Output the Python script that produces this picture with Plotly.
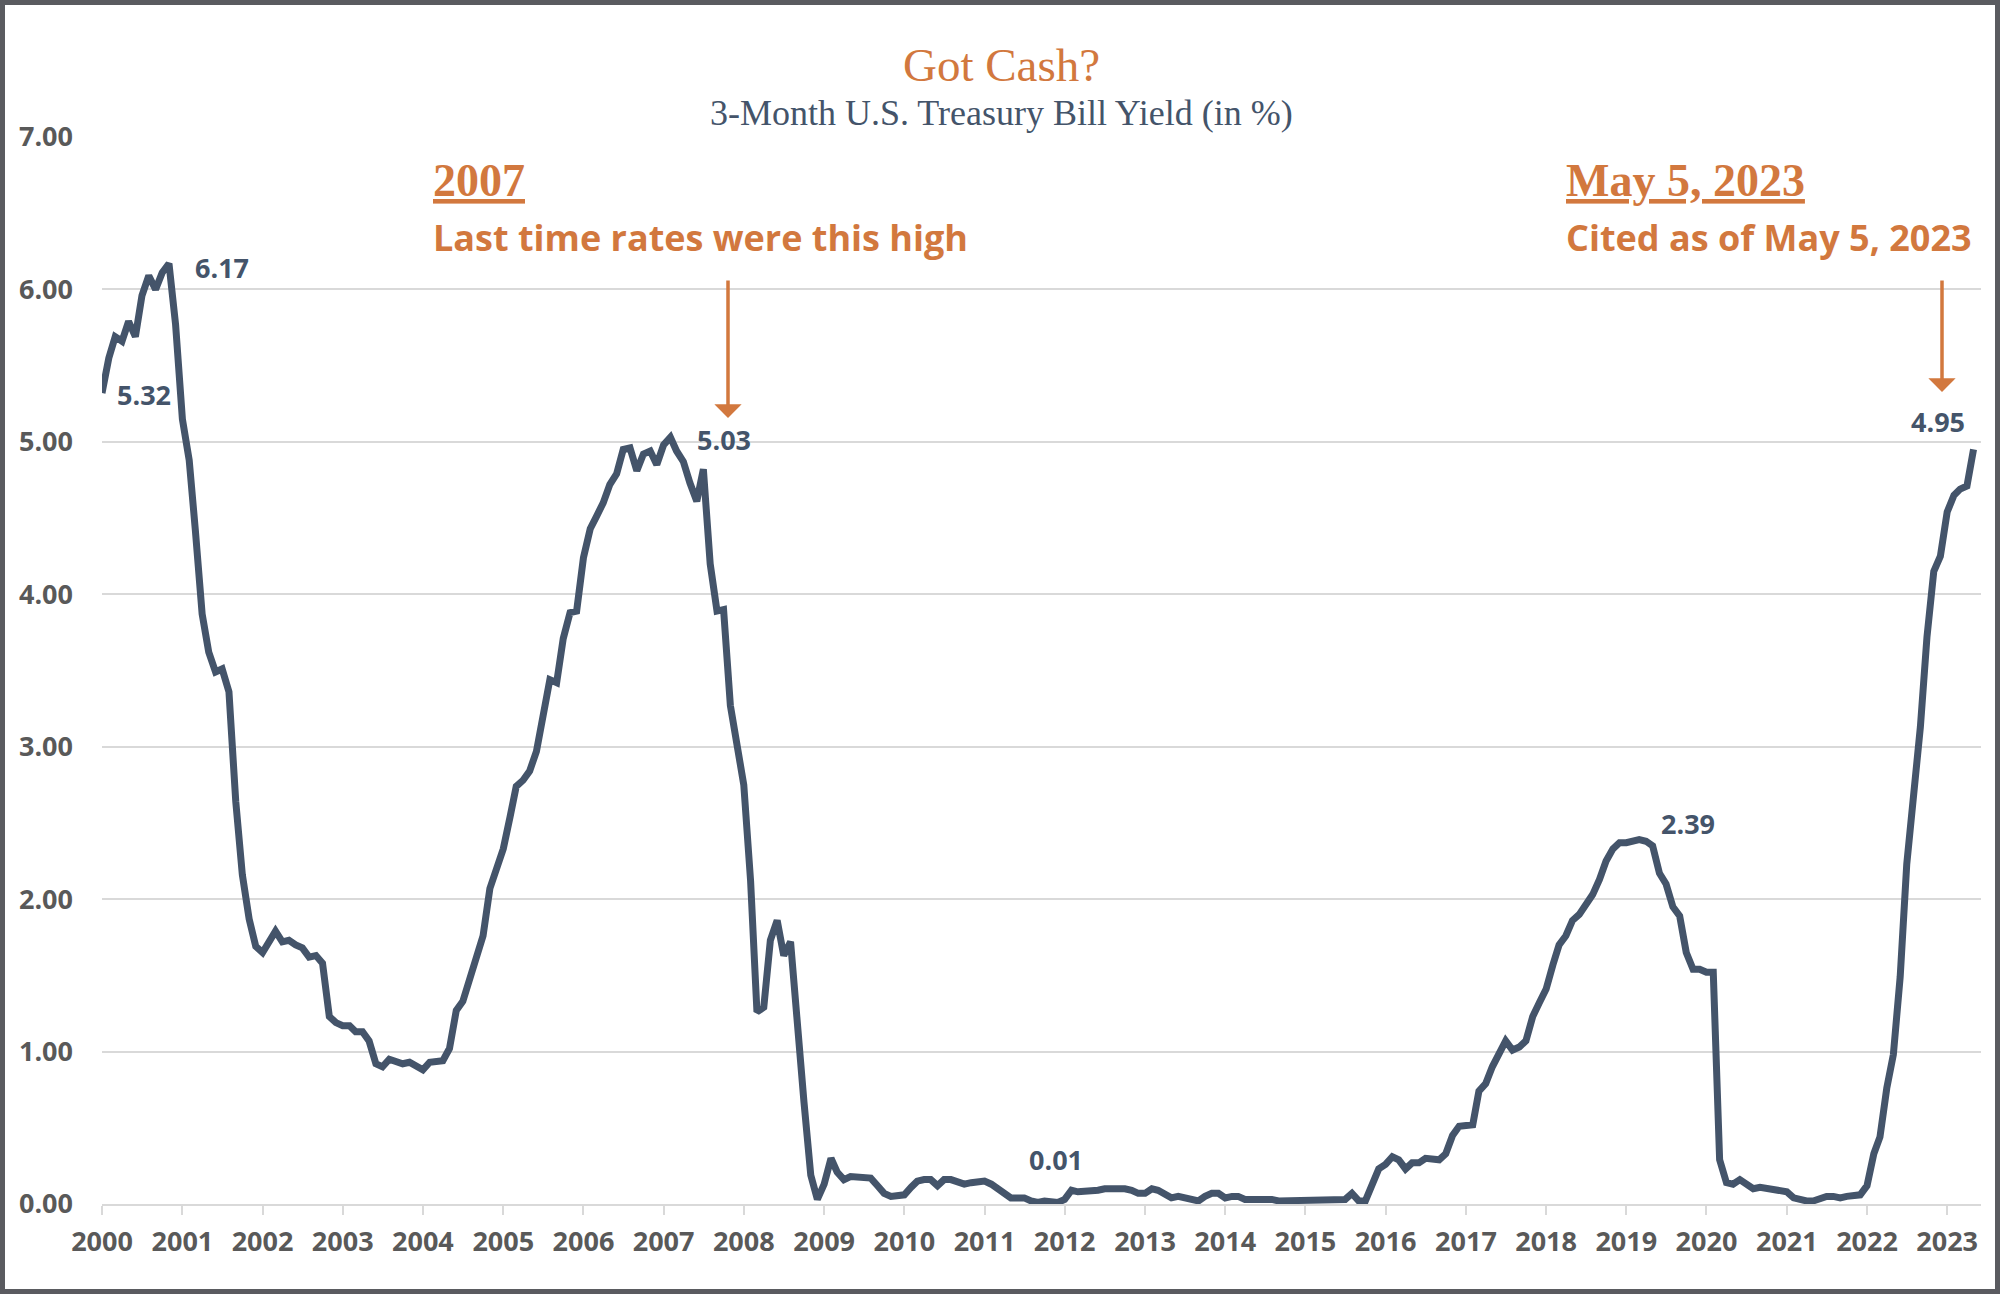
import pandas as pd
import plotly.graph_objects as go

# ---- data: 3-month T-bill yield (%), monthly, Jan 2000 - May 2023 ----
start_month = "2000-01-01"
y2000 = [5.32, 5.55, 5.69, 5.66, 5.79, 5.69, 5.96, 6.09, 6.00, 6.11, 6.17, 5.77]
y2001 = [5.15, 4.88, 4.42, 3.87, 3.62, 3.49, 3.51, 3.36, 2.64, 2.16, 1.87, 1.69]
y2002 = [1.65, 1.73, 1.79, 1.72, 1.73, 1.70, 1.68, 1.62, 1.63, 1.58, 1.23, 1.19]
y2003 = [1.17, 1.17, 1.13, 1.13, 1.07, 0.92, 0.90, 0.95, 0.94, 0.92, 0.93, 0.90]
y2004 = [0.88, 0.93, 0.94, 0.94, 1.02, 1.27, 1.33, 1.48, 1.65, 1.76, 2.07, 2.19]
y2005 = [2.33, 2.54, 2.74, 2.78, 2.84, 2.97, 3.22, 3.44, 3.42, 3.71, 3.88, 3.89]
y2006 = [4.24, 4.43, 4.51, 4.60, 4.72, 4.79, 4.95, 4.96, 4.81, 4.92, 4.94, 4.85]
y2007 = [4.98, 5.03, 4.94, 4.87, 4.73, 4.61, 4.82, 4.20, 3.89, 3.90, 3.27, 3.00]
y2008 = [2.75, 2.12, 1.26, 1.29, 1.73, 1.86, 1.63, 1.72, 1.13, 0.67, 0.19, 0.03]
y2009 = [0.13, 0.30, 0.21, 0.16, 0.18, 0.18, 0.18, 0.17, 0.12, 0.07, 0.05, 0.05]
y2010 = [0.06, 0.11, 0.15, 0.16, 0.16, 0.12, 0.16, 0.16, 0.15, 0.13, 0.14, 0.14]
y2011 = [0.15, 0.13, 0.10, 0.06, 0.04, 0.04, 0.04, 0.02, 0.01, 0.02, 0.01, 0.01]
y2012 = [0.03, 0.09, 0.08, 0.08, 0.09, 0.09, 0.10, 0.10, 0.11, 0.10, 0.09, 0.07]
y2013 = [0.07, 0.10, 0.09, 0.06, 0.04, 0.05, 0.04, 0.04, 0.02, 0.05, 0.07, 0.07]
y2014 = [0.04, 0.05, 0.05, 0.03, 0.03, 0.04, 0.03, 0.03, 0.02, 0.02, 0.02, 0.03]
y2015 = [0.03, 0.02, 0.03, 0.02, 0.02, 0.02, 0.03, 0.07, 0.02, 0.02, 0.12, 0.23]
y2016 = [0.26, 0.31, 0.29, 0.23, 0.27, 0.27, 0.30, 0.30, 0.29, 0.33, 0.45, 0.51]
y2017 = [0.51, 0.52, 0.74, 0.79, 0.90, 0.98, 1.07, 1.01, 1.03, 1.07, 1.23, 1.32]
y2018 = [1.41, 1.57, 1.70, 1.76, 1.86, 1.90, 1.96, 2.03, 2.13, 2.25, 2.33, 2.37]
y2019 = [2.37, 2.38, 2.39, 2.38, 2.35, 2.17, 2.10, 1.95, 1.89, 1.65, 1.54, 1.54]
y2020 = [1.52, 1.52, 0.29, 0.14, 0.13, 0.16, 0.13, 0.10, 0.11, 0.10, 0.09, 0.09]
y2021 = [0.08, 0.04, 0.03, 0.02, 0.02, 0.04, 0.05, 0.05, 0.04, 0.05, 0.05, 0.06]
y2022 = [0.12, 0.33, 0.44, 0.76, 0.98, 1.49, 2.23, 2.63, 3.13, 3.72, 4.15, 4.25]
y2023 = [4.54, 4.65, 4.69, 4.71, 4.95]

yields = (y2000 + y2001 + y2002 + y2003 + y2004 + y2005 + y2006 + y2007 + y2008
          + y2009 + y2010 + y2011 + y2012 + y2013 + y2014 + y2015 + y2016 + y2017
          + y2018 + y2019 + y2020 + y2021 + y2022 + y2023)
months = pd.date_range(start_month, periods=len(yields), freq="MS")

# labelled points: (month, value text)
label_months = ["2000-01-01", "2000-11-01", "2007-02-01", "2011-11-01", "2019-03-01", "2023-05-01"]
label_texts = ["5.32", "6.17", "5.03", "0.01", "2.39", "4.95"]

NAVY = "#44546A"
ORANGE = "#D2783E"
GRID = "#D9D9D9"
TICK = "#595959"
SANS = "Open Sans, Noto Sans, sans-serif"
SERIF = "Liberation Serif, Times New Roman, serif"

W, H = 2000, 1294
ML, MR, MT, MB = 102, 19, 137, 90
PW, PH = W - ML - MR, H - MT - MB


def px(x):
    return (x - ML) / PW


def py(y):
    return (H - MB - y) / PH


fig = go.Figure()
fig.add_trace(go.Scatter(
    x=months, y=yields, mode="lines",
    line=dict(color=NAVY, width=7),
    hoverinfo="skip", showlegend=False,
))

# value labels
offsets = {
    "5.32": dict(xanchor="left", xshift=13, yshift=-1),
    "6.17": dict(xanchor="left", xshift=24, yshift=-4),
    "5.03": dict(xanchor="left", xshift=25, yshift=-2),
    "0.01": dict(xanchor="center", xshift=5, yshift=43),
    "2.39": dict(xanchor="left", xshift=20, yshift=16),
    "4.95": dict(xanchor="right", xshift=-7, yshift=28),
}
val_by_month = dict(zip(months.strftime("%Y-%m-%d"), yields))
for m, t in zip(label_months, label_texts):
    fig.add_annotation(
        x=m, y=val_by_month[m], xref="x", yref="y", text=t, showarrow=False,
        yanchor="middle", font=dict(family=SANS, size=27, color=NAVY, weight="bold"),
        **offsets[t],
    )

# title and subtitle
fig.add_annotation(x=px(1001), y=py(65), xref="paper", yref="paper", text="Got Cash?",
                   showarrow=False, xanchor="center", yanchor="middle",
                   font=dict(family=SERIF, size=47, color=ORANGE))
fig.add_annotation(x=px(1001), y=py(113), xref="paper", yref="paper",
                   text="3-Month U.S. Treasury Bill Yield (in %)",
                   showarrow=False, xanchor="center", yanchor="middle",
                   font=dict(family=SERIF, size=36, color=NAVY))

# callouts
for xl, head, sub in [(431, "2007", "Last time rates were this high"),
                      (1564, "May 5, 2023", "Cited as of May 5, 2023")]:
    fig.add_annotation(x=px(xl), y=py(181), xref="paper", yref="paper",
                       text="<u>" + head + "</u>", showarrow=False,
                       xanchor="left", yanchor="middle",
                       font=dict(family=SERIF, size=46, color=ORANGE, weight="bold"))
    fig.add_annotation(x=px(xl), y=py(238), xref="paper", yref="paper",
                       text=sub, showarrow=False, xanchor="left", yanchor="middle",
                       font=dict(family=SANS, size=36, color=ORANGE, weight="bold"))

# arrows
for tipx, tipy, tail in [(728, 418, 279), (1942, 392, 279)]:
    fig.add_annotation(x=px(tipx), y=py(tipy), xref="paper", yref="paper", text="",
                       showarrow=True, ax=0, ay=-(tipy - tail), arrowhead=1,
                       arrowsize=1.3, arrowwidth=3.5, arrowcolor=ORANGE)

# outer frame
fig.add_shape(type="rect", xref="paper", yref="paper",
              x0=-ML / PW, x1=1 + MR / PW, y0=-MB / PH, y1=1 + MT / PH,
              line=dict(color="#5A5B60", width=10), fillcolor="rgba(0,0,0,0)", layer="above")

fig.update_layout(
    width=W, height=H, autosize=False,
    margin=dict(l=ML, r=MR, t=MT, b=MB, pad=0),
    paper_bgcolor="white", plot_bgcolor="white",
    showlegend=False,
    xaxis=dict(
        type="date", range=["2000-01-01", "2023-06-04"],
        tick0="2000-01-01", dtick="M12", tickformat="%Y",
        ticks="outside", ticklen=9, tickwidth=2, tickcolor=GRID,
        showline=True, linecolor=GRID, linewidth=2,
        showgrid=False, zeroline=False,
        tickfont=dict(family=SANS, size=27, color=TICK, weight="bold"),
        ticklabelstandoff=4,
    ),
    yaxis=dict(
        range=[0, 7], dtick=1, tick0=0, tickformat=".2f",
        showgrid=True, gridcolor=GRID, gridwidth=2,
        zeroline=False, showline=False, ticks="",
        tickfont=dict(family=SANS, size=27, color=TICK, weight="bold"),
        ticklabelstandoff=28,
    ),
)

fig.write_html("out.html", config={"displayModeBar": False},
               post_script="document.body.style.margin='0';document.body.style.overflow='hidden';")
